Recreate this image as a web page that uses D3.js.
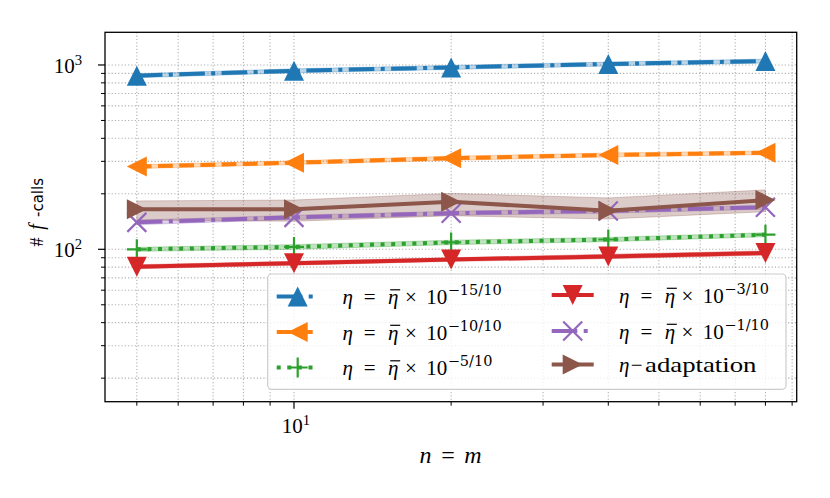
<!DOCTYPE html>
<html>
<head>
<meta charset="utf-8">
<script src="https://cdn.jsdelivr.net/npm/d3@7/dist/d3.min.js"></script>
<style>
  html, body { margin: 0; padding: 0; background: #fff; }
  svg { display: block; }
  text { font-family: "Liberation Serif", "DejaVu Serif", serif; fill: #000; }
</style>
</head>
<body>
<svg id="chart" width="830" height="498"></svg>
<script>
// ---------------- data ----------------
const nValues = [5, 10, 20, 40, 80];

const seriesNames = ["eta15", "eta10", "eta5", "eta3", "eta1", "adapt"];
const exponents = ["\u221215/10", "\u221210/10", "\u22125/10", "\u22123/10", "\u22121/10", null];

const blueVals   = [875, 930, 970, 1012, 1050];
const blueLow    = [853, 907, 946, 987, 1024];
const blueHigh   = [897, 953, 994, 1037, 1076];

const orangeVals = [281, 295, 312, 325, 334];
const orangeLow  = [274, 288, 304, 317, 326];
const orangeHigh = [288, 302, 320, 333, 342];

const greenVals  = [100, 103, 109, 113, 120];
const greenLow   = [97.5, 100, 106, 110, 117];
const greenHigh  = [102.5, 106, 112, 116, 123];

const redVals    = [80.5, 84, 88, 91.5, 95.5];
const redLow     = [78.5, 82, 86, 89, 93];
const redHigh    = [82.5, 86, 90, 94, 98];

const purpleVals = [140, 149, 157, 161.5, 169];
const purpleLow  = [136, 145, 153, 157, 165];
const purpleHigh = [144, 153, 161, 166, 173];

const brownVals  = [165, 165, 181, 162, 185];
const brownLow   = [144, 142, 152, 146, 160];
const brownHigh  = [183, 185, 201, 190, 210];

const xMajorTicks = [10];
const xMinorTicks = [5, 6, 7, 8, 9, 20, 30, 40, 50, 60, 70, 80, 90];
const yMajorTicks = [100, 1000];
const yMinorTicks = [20, 30, 40, 50, 60, 70, 80, 90, 200, 300, 400, 500, 600, 700, 800, 900];
const xTickLabels = { 10: ["10", "1"] };
const yTickLabels = { 100: ["10", "2"], 1000: ["10", "3"] };

// ---------------- style ----------------
const colors = ["#1f77b4", "#ff7f0e", "#2ca02c", "#d62728", "#9467bd", "#8c564b"];
const dashes = ["25.6,6.4,4,6.4", "14.8,6.4", "4,6.6", null, "25.6,6.4,4,6.4", null];
const markers = ["tri-up", "tri-left", "plus", "tri-down", "x", "tri-right"];

const series = [
  { vals: blueVals, low: blueLow, high: blueHigh },
  { vals: orangeVals, low: orangeLow, high: orangeHigh },
  { vals: greenVals, low: greenLow, high: greenHigh },
  { vals: redVals, low: redLow, high: redHigh },
  { vals: purpleVals, low: purpleLow, high: purpleHigh },
  { vals: brownVals, low: brownLow, high: brownHigh }
].map((s, i) => ({ ...s, name: seriesNames[i], color: colors[i], dash: dashes[i], marker: markers[i], exp: exponents[i] }));

// ---------------- layout ----------------
const L = 105, R = 796.7, T = 32.3, B = 401.7;
const svg = d3.select("#chart");

const x = d3.scaleLog().domain([4.345, 91.83]).range([L, R]);
const y = d3.scaleLog().domain([14.9, 1504]).range([B, T]);

// grid
const grid = svg.append("g");
[...xMajorTicks, ...xMinorTicks].forEach(v => {
  grid.append("line").attr("x1", x(v)).attr("x2", x(v)).attr("y1", T).attr("y2", B)
    .attr("stroke", "#b0b0b0").attr("stroke-width", 1.1).attr("stroke-dasharray", "1.2,2.1");
});
[...yMajorTicks, ...yMinorTicks].forEach(v => {
  grid.append("line").attr("y1", y(v)).attr("y2", y(v)).attr("x1", L).attr("x2", R)
    .attr("stroke", "#b0b0b0").attr("stroke-width", 1.1).attr("stroke-dasharray", "1.2,2.1");
});

// bands (below lines)
const area = d3.area().x((d, i) => x(nValues[i])).y0(d => y(d[0])).y1(d => y(d[1]));
series.forEach(s => {
  const pts = s.low.map((lo, i) => [lo, s.high[i]]);
  svg.append("path").attr("d", area(pts)).attr("fill", s.color).attr("fill-opacity", 0.3)
    .attr("stroke", s.color).attr("stroke-opacity", 0.3).attr("stroke-width", 1);
});

// marker drawing
function drawMarker(g, type, cx, cy, color) {
  const h = 10;
  let pts = null;
  if (type === "tri-up") pts = [[0, -h], [-h, h], [h, h]];
  if (type === "tri-down") pts = [[0, h], [-h, -h], [h, -h]];
  if (type === "tri-left") pts = [[-h, 0], [h, -h], [h, h]];
  if (type === "tri-right") pts = [[h, 0], [-h, -h], [-h, h]];
  if (pts) {
    g.append("path").attr("d", "M" + pts.map(p => [cx + p[0], cy + p[1]].join(",")).join("L") + "Z")
      .attr("fill", color);
  } else if (type === "plus") {
    g.append("path").attr("d", `M${cx - h},${cy}L${cx + h},${cy}M${cx},${cy - h}L${cx},${cy + h}`)
      .attr("stroke", color).attr("stroke-width", 2.2);
  } else if (type === "x") {
    const k = h * 0.95;
    g.append("path").attr("d", `M${cx - k},${cy - k}L${cx + k},${cy + k}M${cx - k},${cy + k}L${cx + k},${cy - k}`)
      .attr("stroke", color).attr("stroke-width", 2.2);
  }
}

const line = d3.line().x((d, i) => x(nValues[i])).y(d => y(d));
series.forEach(s => {
  const g = svg.append("g");
  const p = g.append("path").attr("d", line(s.vals)).attr("fill", "none")
    .attr("stroke", s.color).attr("stroke-width", 4);
  if (s.dash) p.attr("stroke-dasharray", s.dash);
  s.vals.forEach((v, i) => drawMarker(g, s.marker, x(nValues[i]), y(v), s.color));
});

// spines
svg.append("rect").attr("x", L).attr("y", T).attr("width", R - L).attr("height", B - T)
  .attr("fill", "none").attr("stroke", "#000").attr("stroke-width", 1.3);

// ticks
xMajorTicks.forEach(v => svg.append("line").attr("x1", x(v)).attr("x2", x(v)).attr("y1", B).attr("y2", B + 7).attr("stroke", "#000").attr("stroke-width", 1.2));
xMinorTicks.forEach(v => svg.append("line").attr("x1", x(v)).attr("x2", x(v)).attr("y1", B).attr("y2", B + 4).attr("stroke", "#000").attr("stroke-width", 1));
yMajorTicks.forEach(v => svg.append("line").attr("y1", y(v)).attr("y2", y(v)).attr("x1", L).attr("x2", L - 7).attr("stroke", "#000").attr("stroke-width", 1.2));
yMinorTicks.forEach(v => svg.append("line").attr("y1", y(v)).attr("y2", y(v)).attr("x1", L).attr("x2", L - 4).attr("stroke", "#000").attr("stroke-width", 1));

const FS = 21;
function powText(g, base, exp, px, py, anchor) {
  const t = g.append("text").attr("x", px).attr("y", py).attr("font-size", FS).attr("text-anchor", anchor);
  t.append("tspan").text(base);
  t.append("tspan").attr("font-size", FS * 0.7).attr("dy", -8).text(exp);
  return t;
}
Object.entries(yTickLabels).forEach(([v, lab]) => powText(svg, lab[0], lab[1], 82, y(+v) + 8, "end"));
Object.entries(xTickLabels).forEach(([v, lab]) => powText(svg, lab[0], lab[1], x(+v) + 2, 433, "middle"));

// x axis label  n = m
const XLF = 24;
svg.append("text").attr("x", 425.5).attr("y", 463.3).attr("font-size", XLF).attr("text-anchor", "middle").attr("font-style", "italic").text("n");
svg.append("text").attr("x", 448).attr("y", 463.3).attr("font-size", XLF).attr("text-anchor", "middle").text("=");
svg.append("text").attr("x", 473).attr("y", 463.3).attr("font-size", XLF).attr("text-anchor", "middle").attr("font-style", "italic").text("m");

// y axis label  #f-calls (rotated)
const yg = svg.append("g").attr("transform", "translate(43,0) rotate(-90)");
yg.append("text").attr("x", -242).attr("y", 0).attr("font-size", 18).attr("text-anchor", "middle").text("#");
yg.append("text").attr("x", -227).attr("y", 0).attr("font-size", 20).attr("text-anchor", "middle").attr("font-style", "italic").text("f");
yg.append("text").attr("x", -217).attr("y", 0).attr("font-size", 15).attr("text-anchor", "start")
  .style("font-family", "'DejaVu Sans', sans-serif").text("-calls");

// legend
const lg = svg.append("g");
lg.append("rect").attr("x", 267.7).attr("y", 274).attr("width", 518.3).attr("height", 115.3).attr("rx", 4)
  .attr("fill", "#fff").attr("fill-opacity", 0.8).attr("stroke", "#cccccc").attr("stroke-width", 1.2);
const colX = [276.7, 551.7];
const textX = [341.7, 618.3];
const rowY = [[296.5, 332, 367.5], [295, 331, 364.5]];
function lt(px, py, str, opts = {}) {
  const t = lg.append("text").attr("x", px).attr("y", py).attr("font-size", opts.fs || FS)
    .attr("text-anchor", opts.anchor || "start").text(str);
  if (opts.italic) t.attr("font-style", "italic");
  if (opts.family) t.style("font-family", opts.family);
  if (opts.len) t.attr("textLength", opts.len).attr("lengthAdjust", "spacingAndGlyphs");
  return t;
}
series.forEach((s, i) => {
  const c = Math.floor(i / 3), r = i % 3;
  const yy = rowY[c][r];
  const hl = lg.append("line").attr("x1", colX[c]).attr("x2", colX[c] + 42).attr("y1", yy).attr("y2", yy)
    .attr("stroke", s.color).attr("stroke-width", 4);
  if (s.dash) hl.attr("stroke-dasharray", s.dash);
  drawMarker(lg, s.marker, colX[c] + 21, yy, s.color);
  const bx = textX[c], by = yy + 7.6;
  if (s.exp) {
    lt(bx + 6, by, "\u03b7", { italic: true, anchor: "middle" });
    lt(bx + 28, by, "=", { anchor: "middle" });
    lt(bx + 51.6, by, "\u03b7", { italic: true, anchor: "middle" });
    lg.append("line").attr("x1", bx + 48.5).attr("x2", bx + 58.5).attr("y1", by - 14.3).attr("y2", by - 14.3)
      .attr("stroke", "#000").attr("stroke-width", 1.2);
    lt(bx + 69.1, by, "\u00d7", { anchor: "middle" });
    lt(bx + 84.5, by, "10");
    lt(bx + 106, by - 9, s.exp, { fs: 14.5, family: "'DejaVu Serif', serif" });
  } else {
    lt(bx + 5.8, by, "\u03b7", { italic: true, anchor: "middle" });
    lt(bx + 18.4, by, "\u2212", { anchor: "middle" });
    lt(bx + 26.7, by, "adaptation", { len: 111.5 });
  }
});
</script>
</body>
</html>
